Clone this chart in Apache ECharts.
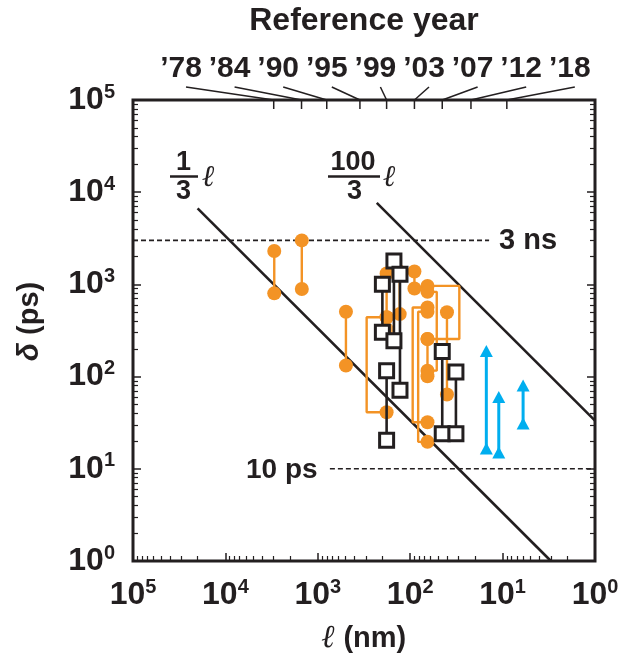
<!DOCTYPE html>
<html>
<head>
<meta charset="utf-8">
<script src="https://cdn.jsdelivr.net/npm/echarts@6/dist/echarts.min.js"></script>
<style>
  html, body { margin: 0; padding: 0; background: #fff; }
  #chart { width: 628px; height: 660px; }
</style>
</head>
<body>
<div id="chart"></div>
<script>
// δ (ps) vs ℓ (nm), log-log, x axis reversed

const INK = '#231f20';
const ORANGE = '#f39325';
const CYAN = '#00aeef';
const FONT = '"Liberation Sans", Arial, sans-serif';

// reference lines
const lineThird = [[2e4, 2e4 / 3], [3, 1]];                    // δ = ℓ/3
const lineHundredThird = [[230, 230 * 100 / 3], [1, 100 / 3]]; // δ = 100ℓ/3
const dash3ns = [[1e5, 3000], [14, 3000]];
const dash10ps = [[740, 10], [1, 10]];

// top axis: reference year -> ℓ (nm)
const years = ['’78', '’84', '’90', '’95', '’99', '’03', '’07', '’12', '’18'];
const yearNodes = [3000, 1500, 800, 350, 180, 90, 45, 22, 9];

// orange: [ℓ, δ top, δ bottom]
const orangePairs = [
  [2960, 2300, 800],
  [1490, 3000, 890],
  [496, 505, 132],
  [180, 1313, 440],
  [130, 1368, 476],
  [90, 1380, 904],
  [40, 498, 64],
  [65, 256, 101]
];
// orange brackets: [ℓ of dots, ℓ of bracket side, δ top, δ bottom]
const orangeBrackets = [
  [180, 296, 440, 41],
  [65, 94, 562, 32],
  [65, 82, 505, 19.6],
  [65, 29.4, 963, 256],
  [65, 51.6, 830, 116]
];
const orangeSingles = [[180, 328]];

// black squares: [ℓ, δ top, δ bottom]
const blackPairs = [
  [200, 1005, 302],
  [150, 1795, 245],
  [129, 1288, 71],
  [180, 116, 20.4],
  [45, 187, 24],
  [32, 112, 24]
];

// cyan arrows: [ℓ, δ from, δ to]
const cyanArrows = [
  [15, 16.6, 190],
  [11, 15, 60],
  [6, 31, 80]
];

const chart = echarts.init(document.getElementById('chart'));

function powLabel(v) {
  const e = Math.round(Math.log10(v));
  return '{b|10}{s|' + e + '}';
}
const powRich = {
  b: { fontSize: 32, fontWeight: 'bold', fontFamily: FONT, color: INK, lineHeight: 36 },
  s: { fontSize: 20, fontWeight: 'bold', fontFamily: FONT, color: INK, verticalAlign: 'top', lineHeight: 20 }
};

const series = [];

function refLine(data, dashed) {
  series.push({
    type: 'line', data, symbol: 'none', silent: true, z: 2,
    lineStyle: { color: INK, width: dashed ? 1.6 : 2.6, type: dashed ? [5, 3] : 'solid' }
  });
}
refLine(lineThird, false);
refLine(lineHundredThird, false);
refLine(dash3ns, true);
refLine(dash10ps, true);

const orangeStyle = {
  symbol: 'circle', symbolSize: 14, z: 3, silent: true,
  itemStyle: { color: ORANGE },
  lineStyle: { color: ORANGE, width: 2.4 }
};
orangeBrackets.forEach(([l, lb, a, b]) => {
  series.push(Object.assign({
    type: 'line',
    data: [
      { value: [l, a] },
      { value: [lb, a], symbol: 'none' },
      { value: [lb, b], symbol: 'none' },
      { value: [l, b] }
    ]
  }, orangeStyle));
});
orangePairs.forEach(([l, a, b]) => {
  series.push(Object.assign({ type: 'line', data: [[l, a], [l, b]] }, orangeStyle));
});
series.push(Object.assign({ type: 'scatter', data: orangeSingles }, orangeStyle));

blackPairs.forEach(([l, a, b]) => {
  series.push({
    type: 'line', data: [[l, a], [l, b]], z: 4, silent: true,
    symbol: 'rect', symbolSize: 14,
    itemStyle: { color: '#fff', borderColor: INK, borderWidth: 3 },
    lineStyle: { color: INK, width: 2.6 }
  });
});

cyanArrows.forEach(([l, a, b]) => {
  series.push({
    type: 'line', data: [[l, a], [l, b]], z: 4, silent: true,
    symbol: 'triangle', symbolSize: [13, 12],
    itemStyle: { color: CYAN },
    lineStyle: { color: CYAN, width: 3 }
  });
});

// year ticks on the top edge with leader lines to labels
const YEAR_X0 = 181, YEAR_DX = 48.6;
series.push({
  type: 'custom', coordinateSystem: 'cartesian2d', silent: true, clip: false, z: 5,
  data: yearNodes.map((l, i) => [l, 1e5, i]),
  renderItem(params, api) {
    const p = api.coord([api.value(0), api.value(1)]);
    const i = api.value(2);
    const lx = YEAR_X0 + i * YEAR_DX;
    return {
      type: 'group',
      children: [
        { type: 'line', shape: { x1: p[0], y1: p[1], x2: p[0], y2: p[1] + 9 }, style: { stroke: INK, lineWidth: 1.5 } },
        { type: 'line', shape: { x1: lx + 5, y1: p[1] - 13, x2: p[0], y2: p[1] }, style: { stroke: INK, lineWidth: 1.5 } },
        { type: 'text', x: lx, y: p[1] - 31,
          style: { text: years[i], fill: INK, font: 'bold 30px ' + FONT, textAlign: 'center', textVerticalAlign: 'middle' } }
      ]
    };
  }
});

const tickCommon = {
  axisLine: { show: false },
  splitLine: { show: false },
  axisTick: { show: true, inside: true, length: 8, lineStyle: { color: INK, width: 1.5 } },
  minorTick: { show: true, splitNumber: 9, length: 5, lineStyle: { color: INK, width: 1.2 } }
};

const option = {
  animation: false,
  grid: {
    left: 133, top: 100, width: 462, height: 463,
    show: true, borderColor: INK, borderWidth: 3, backgroundColor: 'transparent'
  },
  xAxis: [Object.assign({
    type: 'log', logBase: 10, min: 1, max: 1e5, inverse: true,
    axisLabel: { margin: 16, formatter: powLabel, rich: powRich },
    name: '{i|ℓ} (nm)', nameLocation: 'middle', nameGap: 62,
    nameTextStyle: {
      fontSize: 29, fontWeight: 'bold', fontFamily: FONT, color: INK,
      rich: { i: { fontSize: 32, fontStyle: 'italic', fontFamily: '"DejaVu Serif", serif', color: INK } }
    }
  }, tickCommon)],
  yAxis: [
    Object.assign({
      type: 'log', logBase: 10, min: 1, max: 1e5,
      axisLabel: { margin: 18, formatter: powLabel, rich: powRich },
      name: '{i|δ} (ps)', nameLocation: 'middle', nameGap: 88, nameRotate: 90,
      nameTextStyle: {
        fontSize: 29, fontWeight: 'bold', fontFamily: FONT, color: INK, padding: [0, 0, 0, 18],
        rich: { i: { fontSize: 30, fontStyle: 'italic', fontWeight: 'bold', fontFamily: FONT, color: INK } }
      }
    }, tickCommon),
    Object.assign({
      type: 'log', logBase: 10, min: 1, max: 1e5, position: 'right',
      axisLabel: { show: false }
    }, tickCommon)
  ],
  graphic: [
    { type: 'text', x: 364, y: 21,
      style: { text: 'Reference year', font: 'bold 32px ' + FONT, fill: INK, textAlign: 'center', textVerticalAlign: 'middle' } },
    // 1/3 ℓ
    { type: 'text', x: 183.5, y: 163, style: { text: '1', font: 'bold 27px ' + FONT, fill: INK, textAlign: 'center', textVerticalAlign: 'middle' } },
    { type: 'line', shape: { x1: 170, y1: 176.5, x2: 198, y2: 176.5 }, style: { stroke: INK, lineWidth: 2.5 } },
    { type: 'text', x: 183.5, y: 192, style: { text: '3', font: 'bold 27px ' + FONT, fill: INK, textAlign: 'center', textVerticalAlign: 'middle' } },
    { type: 'text', x: 208, y: 178, style: { text: 'ℓ', font: 'italic 30px "DejaVu Serif", serif', fill: INK, textAlign: 'center', textVerticalAlign: 'middle' } },
    // 100/3 ℓ
    { type: 'text', x: 353, y: 163, style: { text: '100', font: 'bold 27px ' + FONT, fill: INK, textAlign: 'center', textVerticalAlign: 'middle' } },
    { type: 'line', shape: { x1: 328, y1: 176.5, x2: 380, y2: 176.5 }, style: { stroke: INK, lineWidth: 2.5 } },
    { type: 'text', x: 354.5, y: 192, style: { text: '3', font: 'bold 27px ' + FONT, fill: INK, textAlign: 'center', textVerticalAlign: 'middle' } },
    { type: 'text', x: 389, y: 178, style: { text: 'ℓ', font: 'italic 30px "DejaVu Serif", serif', fill: INK, textAlign: 'center', textVerticalAlign: 'middle' } },
    // dashed line labels
    { type: 'text', x: 499, y: 241, style: { text: '3 ns', font: 'bold 29px ' + FONT, fill: INK, textVerticalAlign: 'middle' } },
    { type: 'text', x: 246, y: 470, style: { text: '10 ps', font: 'bold 28px ' + FONT, fill: INK, textVerticalAlign: 'middle' } }
  ],
  series
};

chart.setOption(option);
</script>
</body>
</html>
